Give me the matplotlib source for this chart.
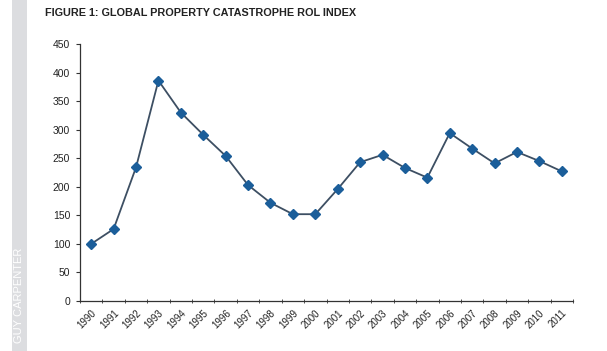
import matplotlib
matplotlib.use("Agg")
import matplotlib.pyplot as plt
from matplotlib.patches import Rectangle

years = [str(y) for y in range(1990, 2012)]
rol_index = [100, 126, 234, 386, 330, 291, 254, 203, 172, 152, 152,
             196, 243, 256, 233, 216, 294, 267, 241, 261, 245, 227]
y_ticks = [0, 50, 100, 150, 200, 250, 300, 350, 400, 450]

plt.rcParams['font.family'] = ['Liberation Sans', 'DejaVu Sans']

fig = plt.figure(figsize=(6.07, 3.51), dpi=100)
fig.patch.set_facecolor('white')

# left grey band
fig.add_artist(Rectangle((12/607, 0), 15/607, 1, transform=fig.transFigure,
                         facecolor='#dcdde0', edgecolor='none'))
fig.text(19.5/607, 1 - 343/351, 'GUY CARPENTER', rotation=90, color='white',
         fontsize=8, ha='center', va='bottom')

fig.text(45/607, 1 - 13/351, 'FIGURE 1: GLOBAL PROPERTY CATASTROPHE ROL INDEX',
         fontsize=7.8, fontweight='bold', color='#222222', ha='left', va='center')

ax = fig.add_axes([80/607, 1 - 301/351, (573-80)/607, (301-44)/351])
x = list(range(len(years)))
ax.plot(x, rol_index, color='#3d4f63', linewidth=1.3, marker='D',
        markersize=5, markerfacecolor='#1b5e9a', markeredgecolor='#1b5e9a', zorder=3)

ax.set_xlim(-0.5, len(years) - 0.5)
ax.set_ylim(0, 450)
ax.set_yticks(y_ticks)
ax.set_yticklabels([str(v) for v in y_ticks], fontsize=7.5, color='#222222')
ax.set_xticks(x)
ax.set_xticklabels(years, rotation=45, fontsize=7, color='#222222',
                   ha='right', rotation_mode='anchor')
ax.set_xticks([i - 0.5 for i in range(len(years) + 1)], minor=True)
ax.tick_params(axis='x', which='major', length=0, pad=5)
ax.tick_params(axis='x', which='minor', length=3, direction='inout', color='#333333')
ax.tick_params(axis='y', length=3, direction='out', color='#333333', pad=4)
for s in ['top', 'right']:
    ax.spines[s].set_visible(False)
for s in ['left', 'bottom']:
    ax.spines[s].set_color('#333333')
    ax.spines[s].set_linewidth(0.9)

fig.savefig('out.png', dpi=100)
